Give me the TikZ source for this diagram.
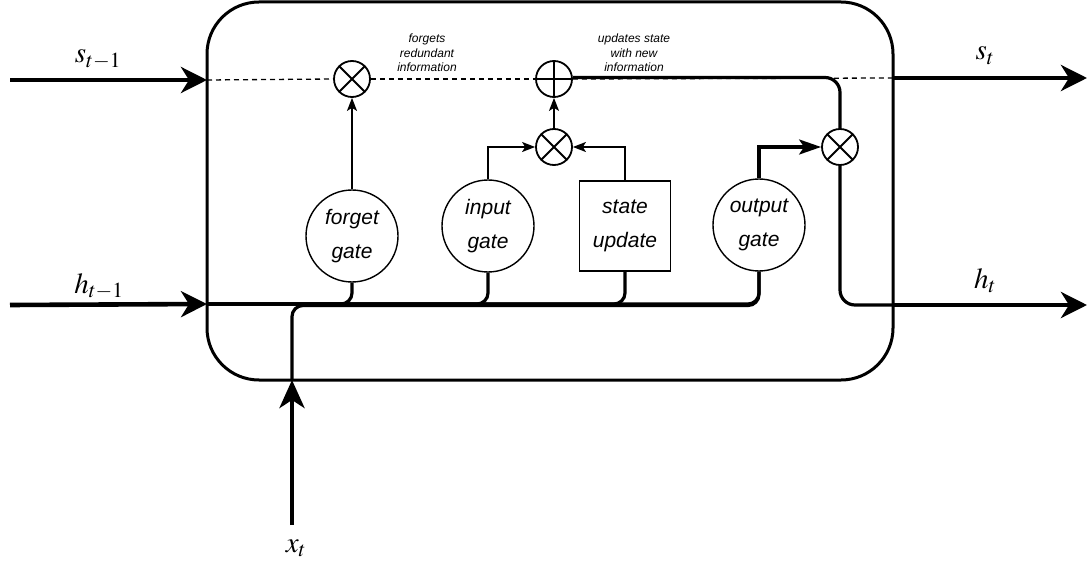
\documentclass[tikz,border=0pt]{standalone}
\usepackage{mathptmx}
\usepackage{fontspec}
\setmainfont{Liberation Sans}
\usetikzlibrary{arrows.meta}

\begin{document}
\begin{tikzpicture}[x=1pt,y=-1pt,
  thick line/.style={line width=3.2pt},
  io/.style={line width=4.6pt, -{Stealth[length=26pt,width=26pt,inset=8pt]}},
  thin line/.style={line width=1.4pt},
  small tip/.style={-{Stealth[length=13pt,width=10pt,inset=3pt]}},
  dashed line/.style={line width=1.3pt, dash pattern=on 5pt off 4pt},
  gate/.style={circle, draw, line width=1.4pt, minimum size=92pt, inner sep=0pt,
    align=center, font=\fontsize{21}{34}\selectfont\itshape},
  op/.style={circle, draw, line width=1.8pt, minimum size=36pt, inner sep=0pt},
  note/.style={align=center, font=\fontsize{12}{14.5}\selectfont\itshape},
  lbl/.style={anchor=base, inner sep=0pt, font=\fontsize{29}{32}\selectfont},
]
\useasboundingbox (0,0) rectangle (1087,564);

% cell border
\draw[line width=3pt, rounded corners=52pt] (207,2) rectangle (893,380);

% end points of the external connectors
\coordinate (sin) at (10,80);
\coordinate (sl) at (207,80);
\coordinate (hin) at (10,305);
\coordinate (hl) at (207,304);
\coordinate (sr) at (893,78);
\coordinate (sout) at (1087,78);
\coordinate (hr) at (893,305);
\coordinate (hout) at (1087,305);
\coordinate (xin) at (292,525);
\coordinate (xb) at (292,380);

% pointwise operations
\node[op] (fx) at (352,79) {};
\node[op] (ad) at (554,79) {};
\node[op] (ix) at (554,147) {};
\node[op] (ox) at (840,147) {};
\foreach \n in {fx,ix,ox}
  \draw[line width=1.8pt] (\n.north east) -- (\n.south west)
                          (\n.north west) -- (\n.south east);
\draw[line width=1.8pt] (ad.north) -- (ad.south) (ad.west) -- (ad.east);

% gates
\node[gate] (fg) at (352,236) {forget\\gate};
\node[gate] (ig) at (488,226) {input\\gate};
\node[draw, line width=1.4pt, minimum width=91pt, minimum height=90pt, inner sep=0pt,
  align=center, font=\fontsize{21}{34}\selectfont\itshape] (su) at (625,226) {state\\update};
\node[gate] (og) at (759,225) {output\\gate};

% cell state line
\draw[dashed line] (sl) -- (fx.west);
\draw[dashed line] (fx.east) -- (ad.west);
\draw[dashed line] (ad.east) -- (sr);
\draw[thick line, rounded corners=15pt] ([yshift=1.5pt]ad.east) -| (ox.north);
\draw[thick line, rounded corners=15pt] (ox.south) |- (hr);

% inputs and outputs
\draw[io] (sin) -- (sl);
\draw[io] (hin) -- (hl);
\draw[io] (sr) -- (sout);
\draw[io] (hr) -- (hout);
\draw[line width=4.6pt, -{Stealth[length=28pt,width=25pt,inset=8pt]}] (xin) -- (xb);

% hidden state and input feeding the gates
\draw[thick line, rounded corners=11pt] (hl) -| (fg.south);
\draw[thick line, rounded corners=11pt] (hl) -| (ig.south);
\draw[thick line, rounded corners=11pt] (hl) -| (su.south);
\draw[thick line, rounded corners=11pt] (hl) -| (og.south);
\draw[thick line, rounded corners=11pt] (xb) -- (292,305.5) -| (og.south);

% gate outputs
\draw[thin line, small tip] (fg.north) -- (fx.south);
\draw[thin line, small tip] (ig.north) |- (ix.west);
\draw[thin line, small tip] (su.north) |- (ix.east);
\draw[thin line, small tip] (ix.north) -- (ad.south);
\draw[thick line, -{Stealth[length=22pt,width=15pt,inset=5pt]}] (og.north) |- (ox.west);

% annotations
\node[note] (nf) at (427,53) {forgets\\redundant\\information};
\node[note] (nu) at (634,53) {updates state\\with new\\information};

% signal labels
\node[lbl] (ls0) at (98,63) {$s_{t-1}$};
\node[lbl] (lh0) at (99,293) {$h_{t-1}$};
\node[lbl] (ls1) at (985,60) {$s_t$};
\node[lbl] (lh1) at (985,288) {$h_t$};
\node[lbl] (lx) at (296,552) {$x_t$};
\end{tikzpicture}
\end{document}
